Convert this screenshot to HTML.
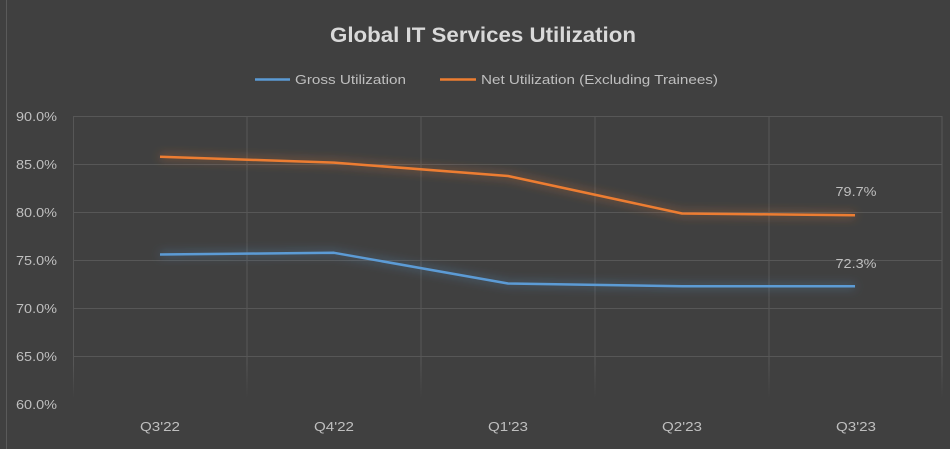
<!DOCTYPE html>
<html><head><meta charset="utf-8"><style>
html,body{margin:0;padding:0;background:#404040;}
svg{display:block;}
text{font-family:"Liberation Sans",sans-serif;}
</style></head><body>
<svg width="950" height="449" viewBox="0 0 950 449" xmlns="http://www.w3.org/2000/svg">
<defs>
<linearGradient id="vfade" x1="0" y1="116" x2="0" y2="398" gradientUnits="userSpaceOnUse">
<stop offset="0" stop-color="#575757"/>
<stop offset="0.88" stop-color="#575757"/>
<stop offset="1" stop-color="#404040"/>
</linearGradient>
<filter id="glowO" x="-10%" y="-100%" width="120%" height="300%">
<feGaussianBlur in="SourceGraphic" stdDeviation="5" result="b"/>
<feComponentTransfer in="b" result="b2"><feFuncA type="linear" slope="0.75"/></feComponentTransfer>
<feMerge><feMergeNode in="b2"/><feMergeNode in="SourceGraphic"/></feMerge>
</filter>
<filter id="glowB" x="-10%" y="-100%" width="120%" height="300%">
<feGaussianBlur in="SourceGraphic" stdDeviation="5" result="b"/>
<feComponentTransfer in="b" result="b2"><feFuncA type="linear" slope="0.7"/></feComponentTransfer>
<feMerge><feMergeNode in="b2"/><feMergeNode in="SourceGraphic"/></feMerge>
</filter>
</defs>
<rect x="0" y="0" width="950" height="449" fill="#404040"/>
<line x1="6.5" y1="0" x2="6.5" y2="449" stroke="#5a5a5a" stroke-width="1"/>

<g stroke="#575757" stroke-width="1">
<line x1="73.5" y1="116.5" x2="942" y2="116.5"/>
<line x1="73.5" y1="164.5" x2="942" y2="164.5"/>
<line x1="73.5" y1="212.5" x2="942" y2="212.5"/>
<line x1="73.5" y1="260.5" x2="942" y2="260.5"/>
<line x1="73.5" y1="308.5" x2="942" y2="308.5"/>
<line x1="73.5" y1="356.5" x2="942" y2="356.5"/>
</g>
<g stroke="url(#vfade)" stroke-width="1">
<line x1="73.5" y1="116" x2="73.5" y2="398"/>
<line x1="247" y1="116" x2="247" y2="398"/>
<line x1="421" y1="116" x2="421" y2="398"/>
<line x1="595" y1="116" x2="595" y2="398"/>
<line x1="769" y1="116" x2="769" y2="398"/>
<line x1="942" y1="116" x2="942" y2="398"/>
</g>

<text x="483" y="42" text-anchor="middle" font-size="21" font-weight="bold" fill="#d9d9d9" textLength="306" lengthAdjust="spacingAndGlyphs">Global IT Services Utilization</text>

<line x1="255" y1="79.5" x2="290" y2="79.5" stroke="#5b9bd5" stroke-width="2.5"/>
<text x="295" y="84" font-size="13" fill="#bfbfbf" textLength="111" lengthAdjust="spacingAndGlyphs">Gross Utilization</text>
<line x1="440" y1="79.5" x2="476" y2="79.5" stroke="#ed7d31" stroke-width="2.5"/>
<text x="481" y="84" font-size="13" fill="#bfbfbf" textLength="237" lengthAdjust="spacingAndGlyphs">Net Utilization (Excluding Trainees)</text>

<g font-size="13" fill="#bfbfbf" text-anchor="end">
<text x="57" y="121" textLength="41" lengthAdjust="spacingAndGlyphs">90.0%</text>
<text x="57" y="169" textLength="41" lengthAdjust="spacingAndGlyphs">85.0%</text>
<text x="57" y="217" textLength="41" lengthAdjust="spacingAndGlyphs">80.0%</text>
<text x="57" y="265" textLength="41" lengthAdjust="spacingAndGlyphs">75.0%</text>
<text x="57" y="313" textLength="41" lengthAdjust="spacingAndGlyphs">70.0%</text>
<text x="57" y="361" textLength="41" lengthAdjust="spacingAndGlyphs">65.0%</text>
<text x="57" y="409" textLength="41" lengthAdjust="spacingAndGlyphs">60.0%</text>
</g>

<g font-size="13" fill="#bfbfbf" text-anchor="middle">
<text x="160" y="431" textLength="40" lengthAdjust="spacingAndGlyphs">Q3'22</text>
<text x="334" y="431" textLength="40" lengthAdjust="spacingAndGlyphs">Q4'22</text>
<text x="508" y="431" textLength="40" lengthAdjust="spacingAndGlyphs">Q1'23</text>
<text x="682" y="431" textLength="40" lengthAdjust="spacingAndGlyphs">Q2'23</text>
<text x="856" y="431" textLength="40" lengthAdjust="spacingAndGlyphs">Q3'23</text>
</g>

<polyline filter="url(#glowO)" fill="none" stroke="#ed7d31" stroke-width="2.5" stroke-linejoin="round" points="160,156.8 334,162.6 508,176 682,213.5 855,215.2"/>
<polyline filter="url(#glowB)" fill="none" stroke="#5b9bd5" stroke-width="2.5" stroke-linejoin="round" points="160,254.5 334,252.8 508,283.5 682,286.2 855,286.2"/>

<text x="856" y="196" text-anchor="middle" font-size="13" fill="#bfbfbf" textLength="41" lengthAdjust="spacingAndGlyphs">79.7%</text>
<text x="856" y="268" text-anchor="middle" font-size="13" fill="#bfbfbf" textLength="41" lengthAdjust="spacingAndGlyphs">72.3%</text>
</svg>
</body></html>
